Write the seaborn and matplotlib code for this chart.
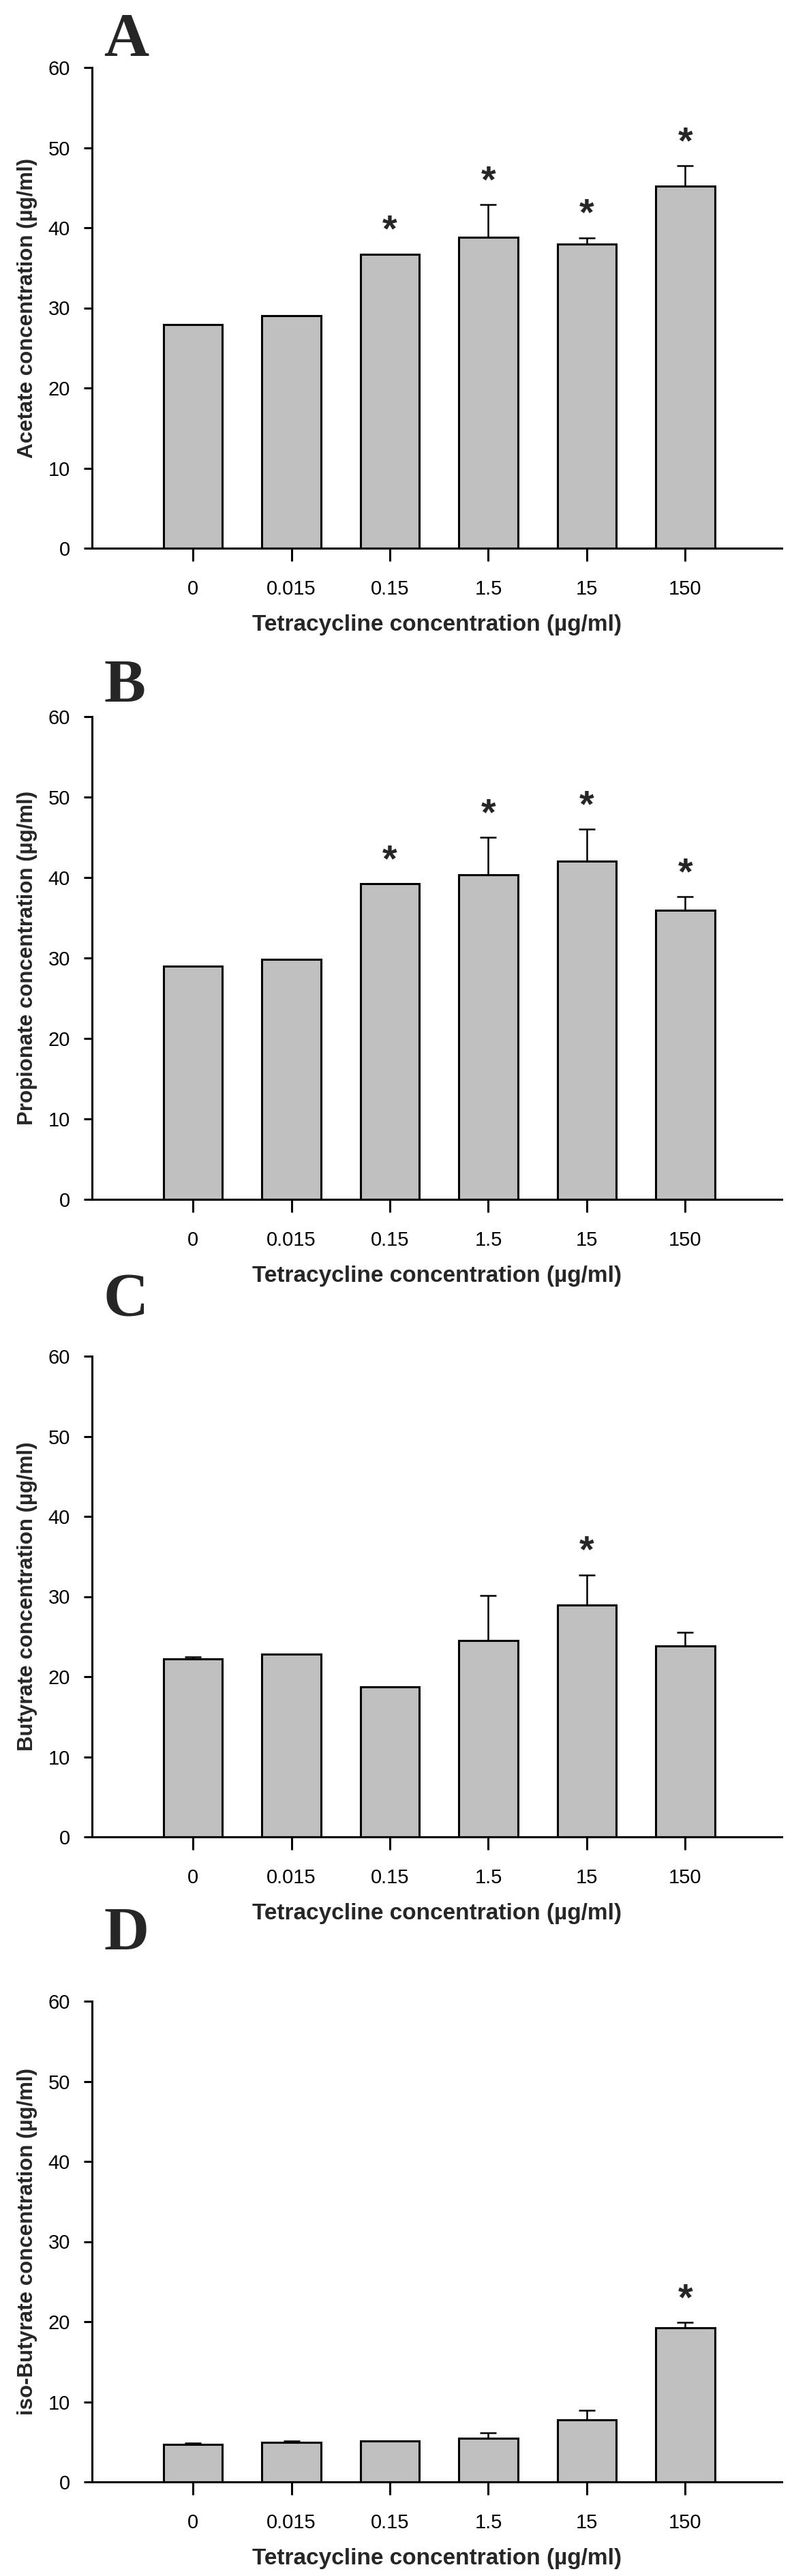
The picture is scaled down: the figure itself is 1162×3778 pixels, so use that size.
import numpy as np
import pandas as pd
import matplotlib
matplotlib.use("Agg")
import matplotlib.pyplot as plt
import seaborn as sns

# ===== data =====
doses = ["0", "0.015", "0.15", "1.5", "15", "150"]

acetate_mean = [27.9, 29.05, 36.7, 38.8, 38.0, 45.15]
acetate_err = [0, 0, 0, 4.1, 0.75, 2.6]
acetate_sig = [False, False, True, True, True, True]

propionate_mean = [29.0, 29.8, 39.2, 40.3, 42.0, 35.9]
propionate_err = [0, 0, 0, 4.7, 4.0, 1.7]
propionate_sig = [False, False, True, True, True, True]

butyrate_mean = [22.25, 22.8, 18.7, 24.5, 28.9, 23.8]
butyrate_err = [0.25, 0, 0, 5.6, 3.8, 1.75]
butyrate_sig = [False, False, False, False, True, False]

isobutyrate_mean = [4.64, 4.94, 5.14, 5.45, 7.77, 19.26]
isobutyrate_err = [0.2, 0.2, 0, 0.7, 1.2, 0.66]
isobutyrate_sig = [False, False, False, False, False, True]

panel_letters = ["A", "B", "C", "D"]
y_labels = ["Acetate concentration (µg/ml)",
            "Propionate concentration (µg/ml)",
            "Butyrate concentration (µg/ml)",
            "iso-Butyrate concentration (µg/ml)"]
x_label = "Tetracycline concentration (µg/ml)"
y_ticks = [0, 10, 20, 30, 40, 50, 60]

panels = [
    (acetate_mean, acetate_err, acetate_sig),
    (propionate_mean, propionate_err, propionate_sig),
    (butyrate_mean, butyrate_err, butyrate_sig),
    (isobutyrate_mean, isobutyrate_err, isobutyrate_sig),
]

# ===== style =====
sns.set_style("ticks")
plt.rcParams['font.family'] = ['Liberation Sans Narrow', 'Liberation Sans', 'DejaVu Sans']

W, H = 1162, 3778
fig = plt.figure(figsize=(W / 100, H / 100), dpi=100)

# pixel layout of the four axes (top, bottom) and letters
ax_left, ax_right = 135, 1147
ax_tops = [99, 1051, 1989, 2935]
ax_bottoms = [804, 1759, 2694, 3640]
letter_base = [82, 1030, 1930, 2860]
letter_x = 152

BAR_COLOR = "#c0c0c0"
LW = 2.2
LABEL_FONT = ["Liberation Sans", "DejaVu Sans"]

for i, (mean, err, sig) in enumerate(panels):
    top, bot = ax_tops[i], ax_bottoms[i]
    ax = fig.add_axes([ax_left / W, 1 - bot / H, (ax_right - ax_left) / W, (bot - top) / H])

    df = pd.DataFrame({"dose": doses, "conc": mean, "err": err, "sig": sig})
    sns.barplot(data=df, x="dose", y="conc", order=doses, color=BAR_COLOR,
                saturation=1, width=0.6, edgecolor="black", linewidth=LW,
                errorbar=None, ax=ax, zorder=2)

    # upper error bars only
    xpos = np.arange(len(doses))
    e = df["err"].to_numpy()
    m = df["conc"].to_numpy()
    has = e > 0
    ax.errorbar(xpos[has], m[has], yerr=[np.zeros(has.sum()), e[has]], fmt="none",
                ecolor="black", elinewidth=1.8, capsize=8.5, capthick=1.8, zorder=1)

    # significance stars
    for xi, yi, ei, s in zip(xpos, m, e, df["sig"]):
        if s:
            ax.text(xi, yi + ei + 0.6, "*", ha="center", va="bottom",
                    fontsize=40, fontweight="bold", family=LABEL_FONT)

    ax.set_xlim(-1.025, 5.98)
    ax.set_ylim(0, 60)
    ax.set_yticks(y_ticks)
    ax.set_yticklabels([str(t) for t in y_ticks])
    sns.despine(ax=ax)
    for sp in ["left", "bottom"]:
        ax.spines[sp].set_linewidth(LW)
        ax.spines[sp].set_color("black")
    ax.tick_params(axis="y", length=9, width=LW, pad=14, labelsize=21, colors="black")
    ax.tick_params(axis="x", length=14, width=LW, pad=19, labelsize=21, colors="black")

    ax.set_ylabel(y_labels[i], fontsize=22.5, fontweight="bold", family=LABEL_FONT)
    ax.yaxis.set_label_coords(-0.079, 0.5)
    ax.set_xlabel(x_label, fontsize=24, fontweight="bold", family=LABEL_FONT)
    ax.xaxis.set_label_coords(0.5, -0.137)

    fig.text(letter_x / W, 1 - letter_base[i] / H, panel_letters[i], ha="left", va="baseline",
             fontsize=66, fontweight="bold", family=["Liberation Serif", "DejaVu Serif"])

fig.savefig("out.png", dpi=100)
